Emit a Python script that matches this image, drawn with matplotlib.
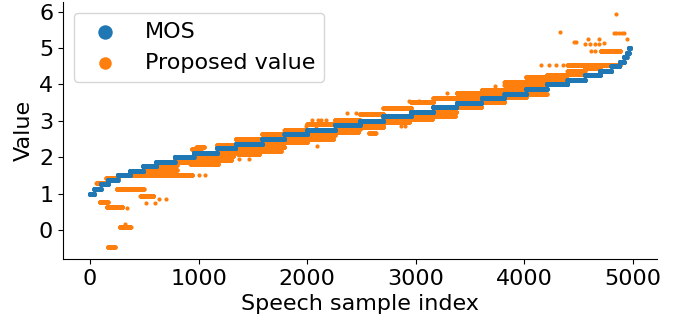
import numpy as np
import matplotlib
matplotlib.use("Agg")
import matplotlib.pyplot as plt

# MOS: sorted step levels (in 1/8 units) and the sample index where each level starts
mos_levels = [1.0, 1.125, 1.25, 1.375, 1.5, 1.625, 1.75, 1.875, 2.0, 2.125, 2.25,
              2.375, 2.5, 2.625, 2.75, 2.875, 3.0, 3.125, 3.25, 3.375, 3.5, 3.625,
              3.75, 3.875, 4.0, 4.125, 4.25, 4.375, 4.5, 4.625, 4.75, 4.875, 5.0]
mos_starts = [0, 40, 100, 165, 255, 370, 490, 610, 780, 955, 1170,
              1340, 1585, 1790, 2000, 2255, 2485, 2700, 2955, 3160, 3375, 3605,
              3815, 4015, 4205, 4395, 4555, 4695, 4800, 4875, 4915, 4940, 4960]
n_samples = 4975

# proposed value: horizontal bands (start index, end index, value)
band_start = [60, 150, 245, 90, 155, 275, 165, 255, 465, 500, 640, 780, 780, 940,
              925, 925, 955, 980,
              1170, 1170, 1170,
              1340, 1340, 1340, 1360,
              1585, 1585, 1585, 1600,
              1790, 1790, 1790,
              2000, 2000, 2010,
              2255, 2255, 2270,
              2485, 2485, 2485, 2570,
              2700, 2700, 2710,
              2955, 2955, 2970,
              3160, 3160, 3170,
              3375, 3375, 3375,
              3605, 3605, 3605,
              3815, 3815, 3815, 3815,
              4015, 4015, 4015, 4015,
              4205, 4205, 4205,
              4395, 4395,
              4555, 4395, 4700]
band_end = [150, 260, 495, 165, 300, 375, 230, 940, 585, 800, 800, 970, 970, 1020,
            1180, 1300, 1320, 1050,
            1350, 1340, 1340,
            1585, 1585, 1585, 1560,
            1790, 1790, 1790, 1760,
            2000, 2000, 2000,
            2255, 2255, 2240,
            2485, 2485, 2470,
            2700, 2700, 2700, 2630,
            2955, 2955, 2940,
            3160, 3160, 3150,
            3375, 3375, 3360,
            3605, 3605, 3605,
            3815, 3815, 3815,
            4015, 4015, 4015, 4015,
            4205, 4205, 4205, 4205,
            4395, 4395, 4395,
            4555, 4555,
            4695, 4880, 4880]
band_value = [1.30, 1.42, 1.12, 0.78, 0.63, 0.09, -0.48, 1.52, 0.92, 1.65, 1.78, 1.88, 1.96, 2.22,
              1.82, 1.92, 2.02, 2.28,
              2.34, 2.15, 2.25,
              2.51, 2.28, 2.18, 2.08,
              2.64, 2.38, 2.28, 2.18,
              2.75, 2.52, 2.42,
              2.90, 2.62, 2.50,
              3.02, 2.78, 2.68,
              3.20, 2.92, 2.83, 2.66,
              3.35, 3.05, 2.97,
              3.52, 3.15, 3.05,
              3.62, 3.24, 3.14,
              3.77, 3.64, 3.38,
              3.86, 3.75, 3.53,
              4.08, 3.98, 3.88, 3.65,
              4.20, 4.10, 3.98, 3.74,
              4.25, 4.15, 4.05,
              4.38, 4.30,
              4.44, 4.53, 4.93]

# proposed value: isolated points
point_idx = [345, 325, 520, 595, 640, 700, 935, 1000, 1060, 1375, 1460, 1990, 2080, 2090,
             2040, 2100, 2130, 2175, 2370, 2450, 2860, 2900, 2935, 3030, 3290, 3730,
             4150, 4230, 4290, 4350, 4615, 4645, 4560, 4600, 4650, 4690, 4735, 4455,
             4470, 4580, 4690, 4325, 4825, 4845, 4870, 4900, 4920, 4945, 4845]
point_value = [0.60, 0.16, 0.73, 0.73, 0.85, 0.85, 1.50, 1.50, 1.50, 1.95, 1.95, 2.85, 2.85, 2.30,
               3.03, 3.03, 3.03, 3.03, 3.22, 3.22, 2.85, 2.85, 3.55, 3.55, 3.77, 3.97,
               4.53, 4.53, 4.53, 4.53, 4.93, 4.93, 5.12, 5.12, 5.12, 5.12, 5.14, 5.17,
               5.17, 5.25, 5.25, 5.44, 5.42, 5.42, 5.41, 5.41, 5.41, 5.26, 5.95]

# expand MOS steps
mos_x = np.arange(n_samples)
bounds = mos_starts[1:] + [n_samples]
mos_y = np.repeat(mos_levels, np.diff([0] + bounds))

prop_x, prop_y = [], []
for s, e, v in zip(band_start, band_end, band_value):
    idx = np.arange(s, e)
    prop_x.append(idx)
    prop_y.append(np.full(len(idx), v))
prop_x = np.concatenate(prop_x + [np.array(point_idx)])
prop_y = np.concatenate(prop_y + [np.array(point_value)])

plt.rcParams['font.size'] = 16
fig = plt.figure(figsize=(6.84, 3.19), dpi=100)
ax = fig.add_axes([0.092, 0.188, 0.869, 0.806])

ax.scatter(prop_x, prop_y, s=9, color='#ff7f0e', label='Proposed value', zorder=2, linewidths=0)
ax.scatter(mos_x, mos_y, s=12, color='#1f77b4', label='MOS', zorder=3, linewidths=0)

h, l = ax.get_legend_handles_labels()
ax.legend(h[::-1], l[::-1], loc='upper left', markerscale=3.0)

ax.spines['top'].set_visible(False)
ax.spines['right'].set_visible(False)
ax.set_xlabel("Speech sample index")
ax.set_ylabel("Value")
ax.set_xticks([0, 1000, 2000, 3000, 4000, 5000])
ax.set_yticks([0, 1, 2, 3, 4, 5, 6])

fig.savefig("out.png", dpi=100)
